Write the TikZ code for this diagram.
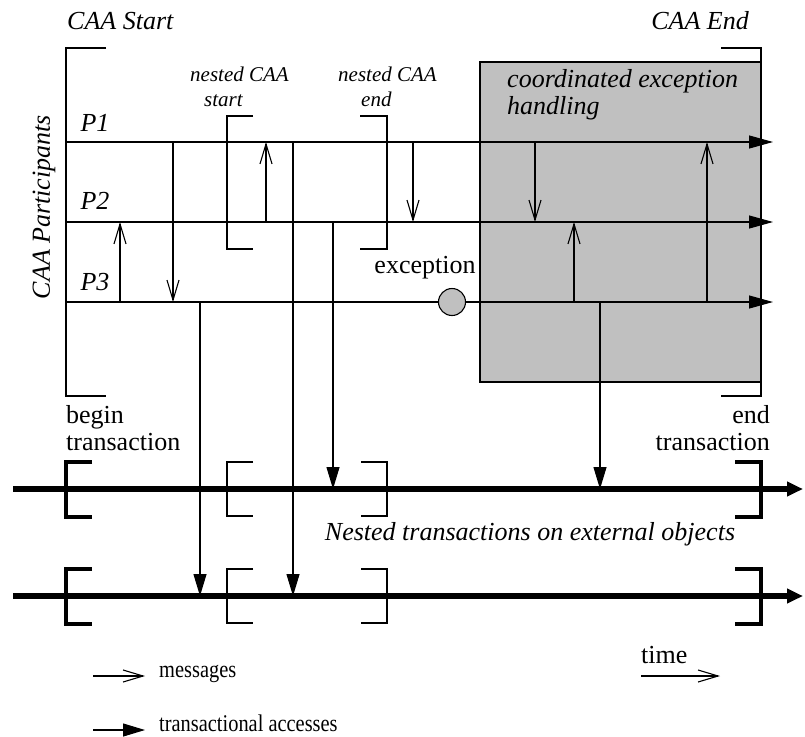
\documentclass[tikz,border=0pt]{standalone}
\usepackage{fontspec}
\usepackage{graphicx}
\setmainfont{Liberation Serif}
\usetikzlibrary{arrows.meta}
\definecolor{boxgray}{RGB}{192,192,192}
\begin{document}
\begin{tikzpicture}[x=1pt,y=-1pt,
  thinln/.style={line width=1.1pt},
  msg/.style={line width=1.1pt,-{Straight Barb[length=20pt,width=12pt]}},
  acc/.style={line width=1.1pt,-{Triangle[length=22pt,width=13pt]}},
  life/.style={line width=1.1pt,-{Triangle[length=24pt,width=13pt]}},
  trans/.style={line width=5.5pt,-{Triangle[length=16pt,width=14pt]}},
  thickbr/.style={line width=4.5pt},
  thinbr/.style={line width=1.3pt},
  lbl/.style={inner sep=0pt,font=\fontsize{26}{27}\selectfont},
  ilbl/.style={inner sep=0pt,font=\fontsize{26}{27}\selectfont\itshape},
  nlbl/.style={inner sep=0pt,font=\fontsize{21}{25}\selectfont\itshape,align=left,anchor=north west},
  leg/.style={inner sep=0pt,font=\fontsize{24}{26}\selectfont,anchor=base west},
  ]
\useasboundingbox (0,0) rectangle (805,736);

% coordinated exception handling box
\draw[thinln,fill=boxgray] (480,62) rectangle (761,382);

% CAA brackets
\draw[thinln] (106,48) -- (66,48) -- (66,396) -- (106,396);
\draw[thinln] (721,48) -- (761,48) -- (761,396) -- (721,396);
% nested CAA brackets
\draw[thinln] (253,116) -- (227,116) -- (227,249) -- (253,249);
\draw[thinln] (360,116) -- (387,116) -- (387,249) -- (360,249);

% participant lines
\coordinate (P1s) at (66,142); \coordinate (P1e) at (773,142);
\coordinate (P2s) at (66,222); \coordinate (P2e) at (773,222);
\coordinate (P3s) at (66,302); \coordinate (P3e) at (773,302);
\draw[life] (P1s) -- (P1e);
\draw[life] (P2s) -- (P2e);
\draw[life] (P3s) -- (P3e);

% transaction lines
\coordinate (T1s) at (13,489); \coordinate (T1e) at (803,489);
\coordinate (T2s) at (13,596); \coordinate (T2e) at (803,596);
\draw[trans] (T1s) -- (T1e);
\draw[trans] (T2s) -- (T2e);

% transaction brackets
\foreach \yc in {489,596} {
  \draw[thickbr] (92,\yc-27) -- (66,\yc-27) -- (66,\yc+28) -- (92,\yc+28);
  \draw[thinbr] (253,\yc-27) -- (227,\yc-27) -- (227,\yc+27) -- (253,\yc+27);
  \draw[thinbr] (361,\yc-27) -- (387,\yc-27) -- (387,\yc+27) -- (361,\yc+27);
  \draw[thickbr] (735,\yc-27) -- (761,\yc-27) -- (761,\yc+28) -- (735,\yc+28);
}

% messages
\draw[msg] (120,0 |- P3s) -- (120,0 |- P2s);
\draw[msg] (173,0 |- P1s) -- (173,0 |- P3s);
\draw[msg] (266,0 |- P2s) -- (266,0 |- P1s);
\draw[msg] (413,0 |- P1s) -- (413,0 |- P2s);
\draw[msg] (535,0 |- P1s) -- (535,0 |- P2s);
\draw[msg] (574,0 |- P3s) -- (574,0 |- P2s);
\draw[msg] (707,0 |- P3s) -- (707,0 |- P1s);

% transactional accesses
\draw[acc] (293,0 |- P1s) -- (293,0 |- T2s);
\draw[acc] (333,0 |- P2s) -- (333,0 |- T1s);
\draw[acc] (200,0 |- P3s) -- (200,0 |- T2s);
\draw[acc] (600,0 |- P3s) -- (600,0 |- T1s);

% exception
\node[circle,draw,fill=boxgray,line width=1.1pt,minimum size=27pt,inner sep=0pt] (exc) at (452,302) {};
\node[lbl] (exclbl) at (425,268) {exception};

% labels
\node[ilbl,anchor=west] (caastart) at (67,21) {CAA Start};
\node[ilbl,anchor=east] (caaend) at (749,21) {CAA End};
\node[ilbl,rotate=90] (parts) at (44,207) {CAA Participants};
\node[ilbl] (p1l) at (95,123) {P1};
\node[ilbl] (p2l) at (95,201) {P2};
\node[ilbl] (p3l) at (95,282) {P3};
\node[nlbl] (nstart) at (190,67) {nested CAA\\\hspace*{14pt}start};
\node[nlbl] (nend) at (338,67) {nested CAA\\\hspace*{23pt}end};
\node[ilbl,align=left,anchor=north west] (ceh) at (507,69) {coordinated exception\\handling};
\node[lbl,align=left,anchor=north west] (begt) at (66,405) {begin\\transaction};
\node[lbl,align=right,anchor=north east] (endt) at (770,405) {end\\transaction};
\node[ilbl] (nested) at (530,534) {Nested transactions on external objects};

% legend
\coordinate (lm1) at (93,676); \coordinate (lm2) at (145,676);
\draw[msg] (lm1) -- (lm2);
\node[leg] (legm) at (159,677) {\scalebox{0.85}[1]{messages}};
\coordinate (la1) at (93,730); \coordinate (la2) at (145,730);
\draw[acc] (la1) -- (la2);
\node[leg] (lega) at (159,731) {\scalebox{0.85}[1]{transactional accesses}};
\node[lbl,anchor=base west] (timel) at (641,663) {time};
\coordinate (lt1) at (641,676); \coordinate (lt2) at (720,676);
\draw[msg] (lt1) -- (lt2);
\end{tikzpicture}
\end{document}
